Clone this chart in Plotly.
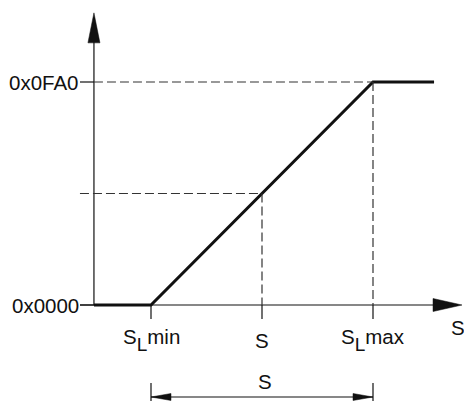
import plotly.graph_objects as go

# Значения (условные единицы: x - положение датчика, y - код)
x_ticks = [1, 2, 3]
x_labels = ["S<sub><sub><span style='font-size:19px'>L</span></sub></sub>min", "S",
            "S<sub><sub><span style='font-size:19px'>L</span></sub></sub>max"]
y_ticks = [0, 4000]
y_labels = ["0x0000", "0x0FA0"]

curve_x = [0.486, 1, 3, 3.55]
curve_y = [0, 0, 4000, 4000]

mid_x = 2
mid_y = 2000

axis_x0 = 0.486      # положение оси Y
axis_left = 0.36     # начало штрихов слева
axis_x_end = 3.802   # конец оси X (остриё)
axis_y_end = 5240    # конец оси Y (остриё)

dim_y = -1650        # размерная линия
ext_top = -1399
ext_bottom = -1722

# пересчёт пикселей в единицы осей
PX_X = 1 / 111
PX_Y = 4000 / 223

FONT = "Liberation Sans, Arial, sans-serif"
INK = "#111111"

fig = go.Figure()

# Характеристика
fig.add_trace(go.Scatter(x=curve_x, y=curve_y, mode="lines",
                         line=dict(color=INK, width=3), hoverinfo="skip"))

shapes = []

def line(x0, y0, x1, y1, dash="solid", width=1.2, color=INK):
    shapes.append(dict(type="line", xref="x", yref="y", x0=x0, y0=y0, x1=x1, y1=y1,
                       line=dict(color=color, width=width, dash=dash)))

# Оси
line(axis_x0, 0, axis_x0, axis_y_end - 20 * PX_Y)
line(axis_left, 0, axis_x_end - 20 * PX_X, 0)

# Штрихи оси Y
for yv in y_ticks:
    line(axis_left, yv, axis_x0, yv)

# Пунктирные линии
line(axis_x0, y_ticks[1], x_ticks[2], y_ticks[1], dash="9px,4px", color="#333333")
line(axis_left, mid_y, mid_x, mid_y, dash="9px,4px", color="#333333")
line(mid_x, mid_y, mid_x, 0, dash="9px,4px", color="#333333")
line(x_ticks[2], y_ticks[1], x_ticks[2], 0, dash="9px,4px", color="#333333")

# Штрихи оси X
for xv in x_ticks:
    line(xv, 0, xv, -14 * PX_Y)

# Размерная линия
line(x_ticks[0], dim_y, x_ticks[2], dim_y)
line(x_ticks[0], ext_top, x_ticks[0], ext_bottom)
line(x_ticks[2], ext_top, x_ticks[2], ext_bottom)

# Стрелки (в пикселях относительно точки)
def arrow(xa, ya, path):
    shapes.append(dict(type="path", xref="x", yref="y", xsizemode="pixel", ysizemode="pixel",
                       xanchor=xa, yanchor=ya, path=path,
                       fillcolor=INK, line=dict(color=INK, width=0.5)))

arrow(axis_x0, axis_y_end, "M0,0 L-6,-30 L6,-30 Z")
arrow(axis_x_end, 0, "M0,0 L-29,6.5 L-29,-6.5 Z")
arrow(x_ticks[0], dim_y, "M0,0 L20,3.5 L20,-3.5 Z")
arrow(x_ticks[2], dim_y, "M0,0 L-20,3.5 L-20,-3.5 Z")

annotations = []
for yv, lab in zip(y_ticks, y_labels):
    annotations.append(dict(x=axis_left, y=yv, text=lab, showarrow=False,
                            xanchor="right", yanchor="middle", xshift=1))
for xv, lab in zip(x_ticks, x_labels):
    annotations.append(dict(x=xv, y=-628, text=lab, showarrow=False,
                            xanchor="center", yanchor="middle"))
annotations.append(dict(x=3.77, y=-395, text="S", showarrow=False,
                        xanchor="center", yanchor="middle"))
annotations.append(dict(x=2.03, y=-1381, text="S", showarrow=False,
                        xanchor="center", yanchor="middle"))

fig.update_layout(
    width=464, height=401, autosize=False,
    margin=dict(l=0, r=0, t=0, b=0),
    paper_bgcolor="white", plot_bgcolor="white",
    showlegend=False,
    font=dict(family=FONT, size=20.5, color=INK),
    xaxis=dict(range=[1 - 151 * PX_X, 1 + 313 * PX_X], visible=False, fixedrange=True),
    yaxis=dict(range=[-96 * PX_Y, 305 * PX_Y], visible=False, fixedrange=True),
    shapes=shapes, annotations=annotations,
)

# убираем отступ страницы, чтобы рисунок занимал всё окно
fig.write_html("out.html", config={"displayModeBar": False},
               post_script="document.body.style.margin='0';document.body.style.overflow='hidden';")
